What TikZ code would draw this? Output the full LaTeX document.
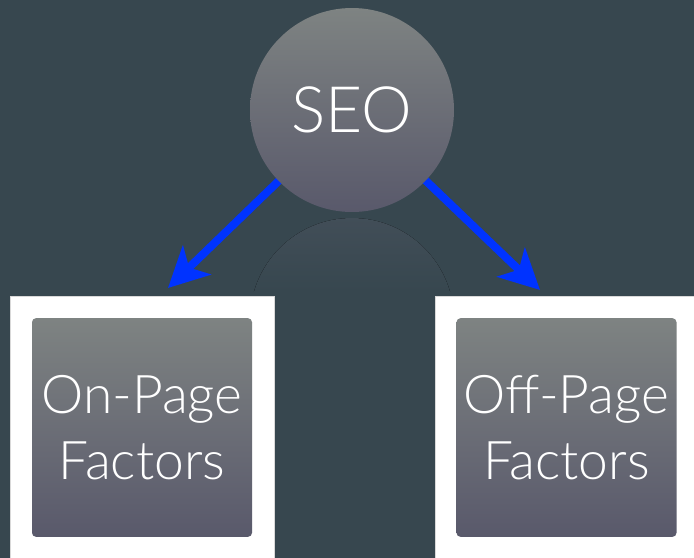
\documentclass[tikz,border=0pt]{standalone}
\usepackage{fontspec}
\setmainfont{Lato}[UprightFont=* Light]
\usetikzlibrary{arrows.meta}
\pgfdeclarelayer{bg}
\pgfdeclarelayer{back}
\pgfsetlayers{bg,back,main}
\definecolor{slatebg}{RGB}{55,71,79}
\definecolor{balltop}{RGB}{126,131,130}
\definecolor{ballbot}{RGB}{89,89,107}
\definecolor{glowtop}{RGB}{66,78,88}
\definecolor{arrowblue}{RGB}{0,51,255}
\tikzset{
  seoball/.style={circle, minimum size=153pt, inner sep=0pt, top color=balltop, bottom color=ballbot, text=white, font=\fontsize{48}{56}\selectfont},
  factorframe/.style={rectangle, fill=white, draw=black!15, line width=0.6pt, minimum width=198pt, minimum height=205pt, inner sep=0pt},
  factorbox/.style={rectangle, rounded corners=3pt, minimum width=165pt, minimum height=164pt, inner sep=0pt, top color=balltop, bottom color=ballbot, text=white, align=center, font=\fontsize{40}{50}\selectfont},
  bluearrow/.style={draw=arrowblue, line width=6pt, -{Stealth[length=30pt,width=30pt,inset=8pt]}}
}
\begin{document}
\begin{tikzpicture}[x=0.75pt,y=0.75pt,yscale=-1,xscale=1]
\useasboundingbox (0,0) rectangle (694,558);
\begin{pgfonlayer}{bg}
\fill[slatebg] (0,0) rectangle (694,558);
\end{pgfonlayer}

% Reflection
\begin{scope}
\clip (352,320) circle[radius=76.5pt];
\fill[top color=glowtop, bottom color=slatebg] (240,216) rectangle (465,292);
\end{scope}

% Circle Node
\node[seoball] (seo) at (352,110) {SEO};

% Frames
\node[factorframe] (onframe) at (142,433.5) {};
\node[factorframe] (offframe) at (567,433.5) {};
% Text Node
\node[factorbox] (onpage) at (142,427.5) {On-Page\\Factors};
% Text Node
\node[factorbox] (offpage) at (566.5,427.5) {Off-Page\\Factors};

% Tips
\coordinate (ontip) at (168,288);
\coordinate (offtip) at (540,290);

\begin{pgfonlayer}{back}
% Connection
\draw[bluearrow] (seo.center) -- (ontip);
% Connection
\draw[bluearrow] (seo.center) -- (offtip);
\end{pgfonlayer}

\end{tikzpicture}
\end{document}
